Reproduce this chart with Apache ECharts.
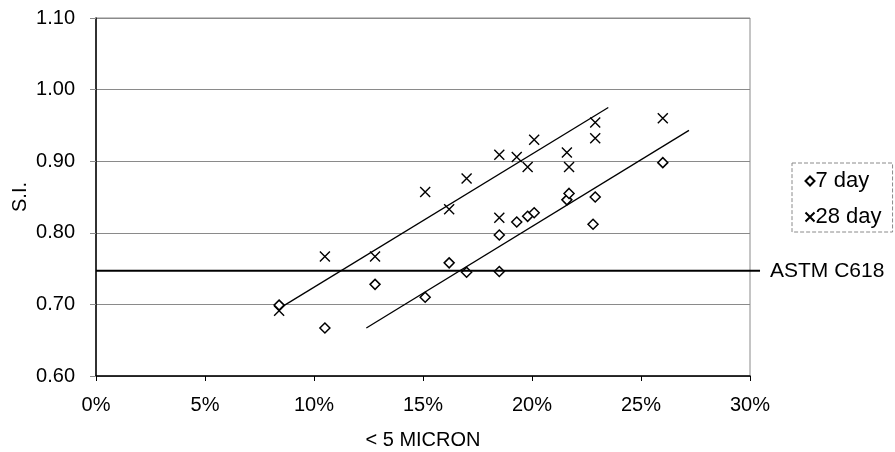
<!DOCTYPE html>
<html>
<head>
<meta charset="utf-8">
<script src="https://cdn.jsdelivr.net/npm/echarts@6/dist/echarts.min.js"></script>
<style>html,body{margin:0;padding:0;background:#fff;}#c{width:895px;height:452px;}</style>
</head>
<body>
<div id="c"></div>
<script>
// ---- data ----
const xTicks = [0, 5, 10, 15, 20, 25, 30];            // % < 5 micron
const yTicks = [0.60, 0.70, 0.80, 0.90, 1.00, 1.10];  // S.I.

const day7X  = [8.4, 10.5, 12.8, 15.1, 16.2, 17.0, 18.5, 18.5, 19.3, 19.8, 20.1, 21.6, 21.7, 22.8, 22.9, 26.0];
const day7Y  = [0.699, 0.667, 0.728, 0.710, 0.758, 0.745, 0.746, 0.797, 0.815, 0.823, 0.828, 0.846, 0.855, 0.812, 0.850, 0.898];

const day28X = [8.4, 10.5, 12.8, 15.1, 16.2, 17.0, 18.5, 18.5, 19.3, 19.8, 20.1, 21.6, 21.7, 22.9, 22.9, 26.0];
const day28Y = [0.691, 0.767, 0.767, 0.857, 0.833, 0.876, 0.909, 0.821, 0.906, 0.892, 0.930, 0.912, 0.892, 0.954, 0.932, 0.960];

const fit7X  = [12.4, 27.2];
const fit7Y  = [0.667, 0.943];
const fit28X = [8.6, 23.5];
const fit28Y = [0.698, 0.975];

const astmX = [0, 30.46];
const astmY = [0.747, 0.747];
const astmLabel = 'ASTM C618';

// ---- chart ----
const FONT = 'Liberation Sans, Arial, sans-serif';
const zip = (a, b) => a.map((v, i) => [v, b[i]]);
const crossPath = 'path://M0,0L10,10M0,10L10,0';
const xMax = xTicks[xTicks.length - 1];
const W = 895, GL = 96, GR = 145;
// right margin of an overlay grid so the ASTM line can run slightly past the plot edge on the same scale
const astmRight = W - GL - (astmX[1] / xMax) * (W - GL - GR);

const chart = echarts.init(document.getElementById('c'), null, {renderer: 'canvas'});
chart.setOption({
  animation: false,
  backgroundColor: '#fff',
  textStyle: {fontFamily: FONT, color: '#000'},
  grid: [
    {left: GL, top: 18, right: GR, bottom: 76, show: true, borderColor: '#8a8a8a', borderWidth: 1, outerBoundsMode: 'none', containLabel: false},
    {left: GL, top: 18, right: astmRight, bottom: 76, show: false, outerBoundsMode: 'none', containLabel: false}
  ],
  legend: {
    orient: 'vertical', left: 792, top: 163,
    padding: [7, 11, 4, 11], itemGap: 14, itemWidth: 9, itemHeight: 9,
    borderColor: '#8a8a8a', borderWidth: 1, borderType: 'dashed',
    textStyle: {fontSize: 22, fontFamily: FONT, color: '#000', padding: [0, 0, 0, -4]},
    data: [{name: '7 day', icon: 'diamond'}, {name: '28 day', icon: crossPath}]
  },
  xAxis: [{
    type: 'value', gridIndex: 0, min: xTicks[0], max: xMax, interval: 5,
    name: '< 5 MICRON', nameLocation: 'middle', nameGap: 54, nameMoveOverlap: false,
    nameTextStyle: {fontSize: 20, fontFamily: FONT, color: '#000'},
    axisLine: {show: true, onZero: false, lineStyle: {color: '#000', width: 1.5}},
    axisTick: {show: true, inside: false, length: 5, lineStyle: {color: '#000'}},
    axisLabel: {fontSize: 20, fontFamily: FONT, color: '#000', margin: 19, formatter: '{value}%'},
    splitLine: {show: false}
  }, {
    type: 'value', gridIndex: 1, min: astmX[0], max: astmX[1], show: false
  }],
  yAxis: [{
    type: 'value', gridIndex: 0, min: yTicks[0], max: yTicks[yTicks.length - 1], interval: 0.1,
    name: 'S.I.', nameLocation: 'middle', nameGap: 66, nameRotate: 90, nameMoveOverlap: false,
    nameTextStyle: {fontSize: 20, fontFamily: FONT, color: '#000'},
    axisLine: {show: true, onZero: false, lineStyle: {color: '#000', width: 1.5}},
    axisTick: {show: true, inside: false, length: 6, lineStyle: {color: '#8a8a8a'}},
    axisLabel: {fontSize: 20, fontFamily: FONT, color: '#000', margin: 21,
      formatter: v => v.toFixed(2)},
    splitLine: {show: true, lineStyle: {color: '#8a8a8a', width: 1}}
  }, {
    type: 'value', gridIndex: 1, min: yTicks[0], max: yTicks[yTicks.length - 1], show: false
  }],
  series: [
    {
      name: 'ASTM', type: 'line', xAxisIndex: 1, yAxisIndex: 1, data: zip(astmX, astmY), silent: true,
      showSymbol: false, symbol: 'none',
      lineStyle: {color: '#000', width: 2},
      endLabel: {show: true, formatter: astmLabel, fontSize: 21, fontFamily: FONT, color: '#000', distance: 10}
    },
    {
      name: 'fit7', type: 'line', data: zip(fit7X, fit7Y), silent: true, showSymbol: false, symbol: 'none',
      lineStyle: {color: '#000', width: 1.3}
    },
    {
      name: 'fit28', type: 'line', data: zip(fit28X, fit28Y), silent: true, showSymbol: false, symbol: 'none',
      lineStyle: {color: '#000', width: 1.3}
    },
    {
      name: '7 day', type: 'scatter', data: zip(day7X, day7Y),
      symbol: 'diamond', symbolSize: 10,
      itemStyle: {color: '#fff', borderColor: '#000', borderWidth: 1.5, opacity: 1}
    },
    {
      name: '28 day', type: 'scatter', data: zip(day28X, day28Y),
      symbol: crossPath, symbolSize: 10,
      itemStyle: {color: 'none', borderColor: '#000', borderWidth: 1.4, opacity: 1}
    }
  ]
});
</script>
</body>
</html>
